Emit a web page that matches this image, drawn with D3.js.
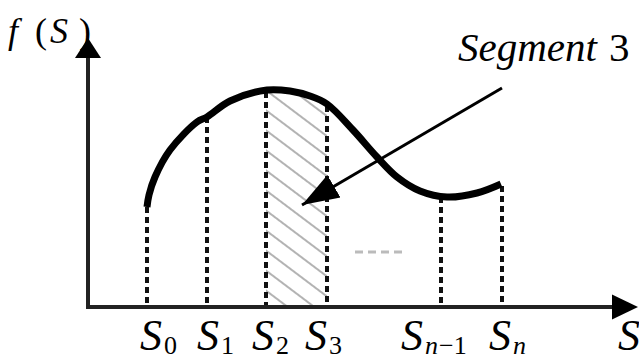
<!DOCTYPE html>
<html><head><meta charset="utf-8">
<script src="https://cdn.jsdelivr.net/npm/d3@7/dist/d3.min.js"></script>
</head><body><div id="chart"></div>
<script>
// ---- data (abstract units) ----
const curveS = [1.18,1.22,1.34,1.64,2.18,2.38,2.84,3.58,4.04,4.44,4.78,5.30,5.78,6.18,6.64,7.18,7.78,8.26];
const curveF = [2.00,2.24,2.60,3.14,3.70,3.80,4.12,4.34,4.32,4.22,4.06,3.54,3.00,2.60,2.32,2.20,2.28,2.46];
const partitionS = [1.18,2.38,3.56,4.78,7.06,8.28];
const partitionF = [2.00,3.80,4.30,4.02,2.20,2.42];
const partitionSub = ["0","1","2","3","n\u22121","n"];
const segmentIndex = 2; // hatched segment between S2 and S3
const arrowFrom = [8.28,4.38], arrowTo = [4.28,2.04];
const ellipsisS = [5.34,6.36], ellipsisF = 1.1;
// layout: horizontal offsets (px) of each S label from its partition line
const labelOffset = [-7,-10,-14,-22,-40,-13];

document.body.style.margin="0";
const W=639,H=360;
const x=d3.scaleLinear().domain([0,11]).range([88,638]);
const y=d3.scaleLinear().domain([0,5.38]).range([307,38]);

const svg=d3.select("#chart").append("svg").attr("width",W).attr("height",H);
const defs=svg.append("defs");
const pat=defs.append("pattern").attr("id","hatch").attr("patternUnits","userSpaceOnUse")
 .attr("width",100).attr("height",16).attr("patternTransform","rotate(37)");
pat.append("line").attr("x1",0).attr("x2",100).attr("y1",8).attr("y2",8).attr("stroke","#999").attr("stroke-width",1.6);
defs.append("clipPath").attr("id","segclip").append("rect")
 .attr("x",x(partitionS[segmentIndex])).attr("y",0)
 .attr("width",x(partitionS[segmentIndex+1])-x(partitionS[segmentIndex])).attr("height",y(0));
defs.append("marker").attr("id","ah").attr("markerUnits","userSpaceOnUse")
 .attr("markerWidth",40).attr("markerHeight",30).attr("refX",37).attr("refY",0)
 .attr("viewBox","0 -15 40 30").attr("orient","auto")
 .append("path").attr("d","M0,-13L37,0L0,13Z").attr("fill","#000");

const pts=curveS.map((s,i)=>[s,curveF[i]]);
const curveType=d3.curveCatmullRom.alpha(0.5);
svg.append("path").datum(pts)
 .attr("d",d3.area().x(d=>x(d[0])).y0(y(0)).y1(d=>y(d[1])).curve(curveType))
 .attr("fill","url(#hatch)").attr("clip-path","url(#segclip)");

svg.selectAll(".part").data(partitionS).join("line")
 .attr("x1",d=>x(d)).attr("x2",d=>x(d))
 .attr("y1",(d,i)=>y(partitionF[i])).attr("y2",y(0))
 .attr("stroke","#111").attr("stroke-width",4).attr("stroke-dasharray","6,4");

svg.append("line").attr("x1",x(ellipsisS[0])).attr("x2",x(ellipsisS[1]))
 .attr("y1",y(ellipsisF)).attr("y2",y(ellipsisF))
 .attr("stroke","#bbb").attr("stroke-width",3).attr("stroke-dasharray","8,5");

svg.append("path").datum(pts)
 .attr("d",d3.line().x(d=>x(d[0])).y(d=>y(d[1])).curve(curveType))
 .attr("fill","none").attr("stroke","#000").attr("stroke-width",7);

svg.append("line").attr("x1",x(0)).attr("x2",x(0)).attr("y1",y(0)+2).attr("y2",56)
 .attr("stroke","#222").attr("stroke-width",4);
svg.append("line").attr("x1",x(0)-2).attr("x2",615).attr("y1",y(0)).attr("y2",y(0))
 .attr("stroke","#222").attr("stroke-width",4);
svg.append("path").attr("d",`M${x(0)},38L${x(0)-13},58L${x(0)+13},58Z`).attr("fill","#000");
svg.append("path").attr("d",`M638,${y(0)}L612,${y(0)-12.5}L612,${y(0)+12.5}Z`).attr("fill","#000");

svg.append("line").attr("x1",x(arrowFrom[0])).attr("y1",y(arrowFrom[1]))
 .attr("x2",x(arrowTo[0])).attr("y2",y(arrowTo[1]))
 .attr("stroke","#000").attr("stroke-width",3).attr("marker-end","url(#ah)");

// all text items as one data join
const items=[];
partitionS.forEach((d,i)=>{
  const x0=x(d)+labelOffset[i];
  items.push({t:"S",x:x0,y:350,s:44,it:true});
  const sub=partitionSub[i];
  if(sub[0]==="n"){
    items.push({t:"n",x:x0+24,y:354,s:26,it:true});
    if(sub.length>1) items.push({t:sub.slice(1),x:x0+38,y:354,s:26,it:false});
  } else items.push({t:sub,x:x0+24,y:354,s:26,it:false});
});
items.push({t:"S",x:618,y:350,s:44,it:true});
items.push({t:"f",x:8,y:43,s:36,it:true});
items.push({t:"(",x:35,y:43,s:36,it:false});
items.push({t:"S",x:50,y:43,s:36,it:true});
items.push({t:")",x:79,y:43,s:36,it:false});
items.push({t:"Segment",x:458,y:61,s:41,it:true});
items.push({t:"3",x:609,y:61,s:41,it:false});

svg.selectAll("text.lbl").data(items).join("text").attr("class","lbl")
 .attr("x",d=>d.x).attr("y",d=>d.y).attr("fill","#000")
 .attr("font-family","Liberation Serif")
 .style("font-family",'"Liberation Serif", "Times New Roman", FreeSerif, serif',"important")
 .style("font-size",d=>d.s+"px")
 .style("font-style",d=>d.it?"italic":"normal")
 .text(d=>d.t);
</script></body></html>
